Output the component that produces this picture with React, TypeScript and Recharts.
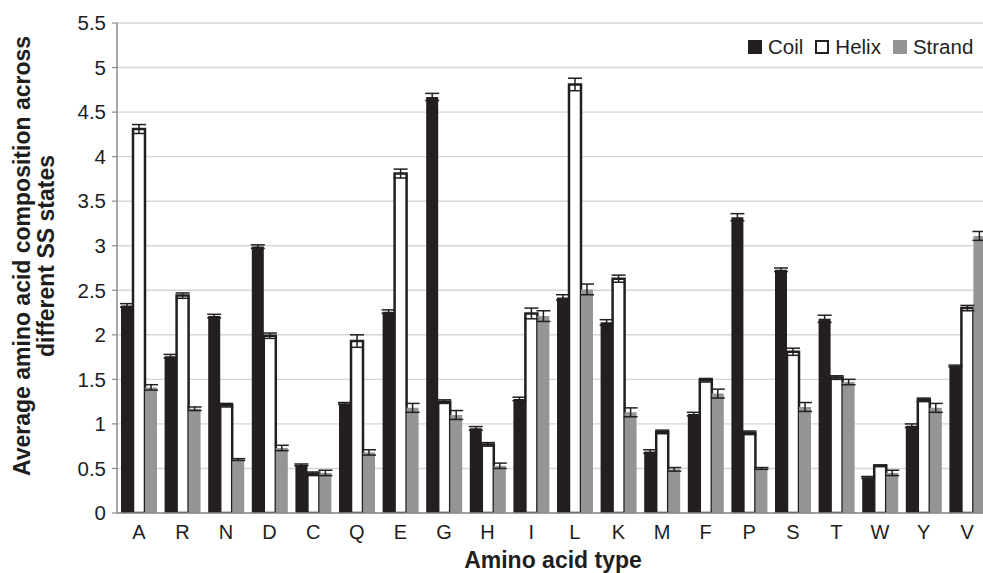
import React from 'react';
import { BarChart, Bar, XAxis, YAxis, CartesianGrid, ErrorBar, Legend } from 'recharts';

const categories = ['A', 'R', 'N', 'D', 'C', 'Q', 'E', 'G', 'H', 'I', 'L', 'K', 'M', 'F', 'P', 'S', 'T', 'W', 'Y', 'V'];
const coil = [2.33, 1.76, 2.21, 2.99, 0.54, 1.23, 2.26, 4.67, 0.95, 1.28, 2.42, 2.14, 0.69, 1.11, 3.32, 2.73, 2.18, 0.4, 0.98, 1.65];
const helix = [4.31, 2.44, 1.21, 1.99, 0.44, 1.93, 3.81, 1.25, 0.77, 2.24, 4.81, 2.63, 0.91, 1.49, 0.9, 1.81, 1.52, 0.53, 1.27, 2.3];
const strand = [1.41, 1.17, 0.6, 0.73, 0.45, 0.68, 1.18, 1.1, 0.53, 2.21, 2.51, 1.13, 0.49, 1.34, 0.5, 1.19, 1.47, 0.45, 1.18, 3.11];
const coilErr = [0.02, 0.02, 0.02, 0.02, 0.01, 0.01, 0.02, 0.04, 0.02, 0.02, 0.03, 0.03, 0.02, 0.02, 0.04, 0.02, 0.04, 0.01, 0.02, 0.01];
const helixErr = [0.05, 0.03, 0.02, 0.03, 0.02, 0.07, 0.05, 0.02, 0.02, 0.06, 0.07, 0.04, 0.02, 0.02, 0.02, 0.04, 0.02, 0.01, 0.02, 0.03];
const strandErr = [0.03, 0.02, 0.01, 0.03, 0.03, 0.03, 0.05, 0.05, 0.03, 0.06, 0.06, 0.05, 0.02, 0.05, 0.01, 0.05, 0.03, 0.03, 0.05, 0.05];
const yTicks = [0, 0.5, 1, 1.5, 2, 2.5, 3, 3.5, 4, 4.5, 5, 5.5];
const seriesNames = ['Coil', 'Helix', 'Strand'];

const data = categories.map((c, i) => ({
  name: c,
  coil: coil[i],
  coilErr: coilErr[i],
  helix: helix[i],
  helixErr: helixErr[i],
  strand: strand[i],
  strandErr: strandErr[i],
}));

const FONT = '"Liberation Sans", Arial, Helvetica, sans-serif';
const COIL = '#231f20';
const STRAND = '#959595';
const TEXT = '#1e1e1e';

const YTitle = () => (
  <g>
    <text
      x={22}
      y={256}
      transform="rotate(-90 22 256)"
      textAnchor="middle"
      dominantBaseline="central"
      fontFamily={FONT}
      fontWeight="bold"
      fontSize={23}
      fill={TEXT}
    >
      Average amino acid composition across
    </text>
    <text
      x={46}
      y={256}
      transform="rotate(-90 46 256)"
      textAnchor="middle"
      dominantBaseline="central"
      fontFamily={FONT}
      fontWeight="bold"
      fontSize={23}
      fill={TEXT}
    >
      different SS states
    </text>
  </g>
);

const XTitle = () => (
  <text x={553} y={568} textAnchor="middle" fontFamily={FONT} fontWeight="bold" fontSize={23} fill={TEXT}>
    Amino acid type
  </text>
);

const swatch = (i: number) => {
  if (i === 0) return <span style={{ display: 'inline-block', width: 14, height: 14, background: COIL }} />;
  if (i === 1)
    return (
      <span
        style={{ display: 'inline-block', width: 10, height: 10, background: '#fff', border: '2px solid ' + COIL }}
      />
    );
  return <span style={{ display: 'inline-block', width: 14, height: 14, background: STRAND }} />;
};

const LegendContent = () => (
  <div
    style={{
      position: 'absolute',
      top: 35,
      left: 748,
      display: 'flex',
      alignItems: 'center',
      fontFamily: FONT,
      fontSize: 20.5,
      color: TEXT,
      whiteSpace: 'nowrap',
    }}
  >
    {seriesNames.map((n, i) => (
      <span key={n} style={{ display: 'flex', alignItems: 'center', marginRight: i < 2 ? 12 : 0 }}>
        {swatch(i)}
        <span style={{ marginLeft: 6 }}>{n}</span>
      </span>
    ))}
  </div>
);

export default function App() {
  return (
    <div
      style={{
        position: 'absolute',
        left: 0,
        top: 0,
        width: 983,
        height: 573,
        overflow: 'hidden',
        background: '#fff',
      }}
    >
      <BarChart
        width={990}
        height={573}
        data={data}
        margin={{ top: 23, right: 1, left: 0, bottom: 0 }}
        barSize={12}
        barGap={0}
      >
        <CartesianGrid vertical={false} stroke="#d6d6d6" strokeWidth={1.4} />
        <XAxis
          dataKey="name"
          height={60}
          tickLine={false}
          tickMargin={6}
          axisLine={{ stroke: '#8a8a8a', strokeWidth: 1.5 }}
          tick={{ fill: TEXT, fontSize: 20, fontFamily: FONT }}
          interval={0}
          label={XTitle}
        />
        <YAxis
          width={117}
          domain={[0, 5.5]}
          ticks={yTicks}
          interval={0}
          tickSize={5}
          tickMargin={6}
          axisLine={{ stroke: '#8a8a8a', strokeWidth: 1.5 }}
          tickLine={{ stroke: '#8a8a8a', strokeWidth: 1.2 }}
          tick={{ fill: TEXT, fontSize: 20.5, fontFamily: FONT }}
          allowDataOverflow
          label={YTitle}
        />
        <Legend content={LegendContent} wrapperStyle={{ position: 'absolute', top: 0, left: 0, width: 0, height: 0 }} />
        <Bar dataKey="coil" name="Coil" fill={COIL} isAnimationActive={false}>
          <ErrorBar dataKey="coilErr" width={7} stroke={COIL} strokeWidth={1.5} direction="y" />
        </Bar>
        <Bar dataKey="helix" name="Helix" fill="#ffffff" stroke={COIL} strokeWidth={2.5} isAnimationActive={false}>
          <ErrorBar dataKey="helixErr" width={7} stroke={COIL} strokeWidth={1.5} direction="y" />
        </Bar>
        <Bar dataKey="strand" name="Strand" fill={STRAND} isAnimationActive={false}>
          <ErrorBar dataKey="strandErr" width={7} stroke={COIL} strokeWidth={1.5} direction="y" />
        </Bar>
      </BarChart>
    </div>
  );
}
